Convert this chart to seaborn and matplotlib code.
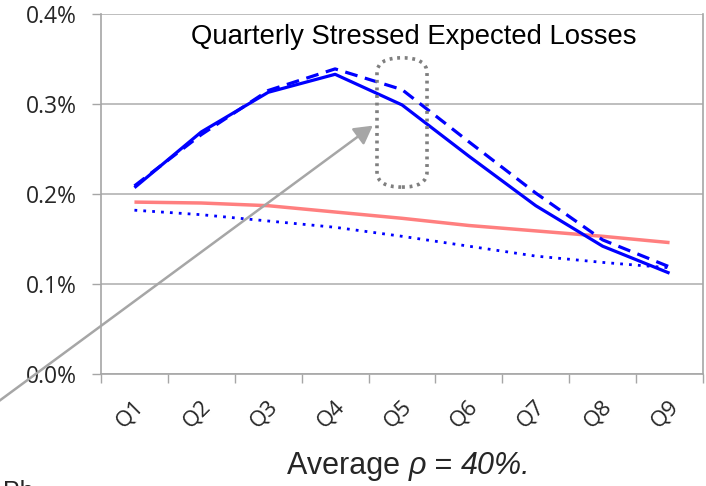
import numpy as np
import pandas as pd
import seaborn as sns
import matplotlib.pyplot as plt
import matplotlib.transforms as mtransforms
from matplotlib.patches import FancyBboxPatch, FancyArrowPatch

# Quarter categories along the horizon
quarters = ["Q1", "Q2", "Q3", "Q4", "Q5", "Q6", "Q7", "Q8", "Q9"]

# Quarterly stressed expected losses, in percent
el_solid = [0.207, 0.269, 0.313, 0.333, 0.299, 0.242, 0.187, 0.142, 0.112]
el_dashed = [0.209, 0.266, 0.315, 0.339, 0.316, 0.258, 0.201, 0.149, 0.119]
el_red = [0.191, 0.190, 0.187, 0.180, 0.173, 0.165, 0.159, 0.153, 0.146]
el_dotted = [0.182, 0.177, 0.170, 0.163, 0.153, 0.142, 0.131, 0.124, 0.118]

y_ticks = [0.0, 0.1, 0.2, 0.3, 0.4]
y_tick_labels = ["0.0%", "0.1%", "0.2%", "0.3%", "0.4%"]

series = {
    "solid": el_solid,
    "dashed": el_dashed,
    "red": el_red,
    "dotted": el_dotted,
}
df = pd.DataFrame(
    [
        {"series": name, "pos": i, "quarter": q, "loss": v}
        for name, vals in series.items()
        for i, (q, v) in enumerate(zip(quarters, vals))
    ]
)

sns.set_theme(style="white")
plt.rcParams["font.family"] = ["Liberation Sans", "DejaVu Sans"]

fig = plt.figure(figsize=(7.06, 4.86), dpi=100)
ax = fig.add_axes([101 / 706, 1 - 374 / 486, 602 / 706, 360 / 486])

styles = {
    "solid": dict(color="#0000FF", linestyle="-", linewidth=2.3),
    "dashed": dict(color="#0000FF", linestyle=(0, (4.0, 2.4)), linewidth=2.3),
    "red": dict(color="#FF7F7F", linestyle="-", linewidth=2.5),
    "dotted": dict(color="#0000FF", linestyle=(0, (1, 2.2)), linewidth=2.0),
}
for name in ["red", "dotted", "dashed", "solid"]:
    sub = df[df["series"] == name]
    sns.lineplot(data=sub, x="pos", y="loss", ax=ax, legend=False,
                 solid_capstyle="butt", dash_capstyle="butt", **styles[name])

ax.set_xlim(-0.5, len(quarters) - 0.5)
ax.set_ylim(0, 0.4)

# y axis
ax.set_yticks(y_ticks)
ax.set_yticklabels(y_tick_labels, fontsize=16.5, family=["Open Sans", "DejaVu Sans"])
ax.yaxis.grid(True, color="#b3b3b3", linewidth=1.2)
ax.tick_params(axis="y", length=6.5, width=1.0, color="#a6a6a6", pad=11, left=True)

# x axis: labels at category centres, tick marks on category boundaries
ax.set_xticks(range(len(quarters)))
ax.set_xticklabels(quarters, rotation=45, ha="right", va="center",
                   rotation_mode="anchor",
                   fontsize=16, family=["Open Sans", "DejaVu Sans"])
ax.tick_params(axis="x", which="major", length=0, pad=21)
nudge = mtransforms.ScaledTranslation(6 / 100, 0, fig.dpi_scale_trans)
for lbl in ax.get_xticklabels():
    lbl.set_transform(lbl.get_transform() + nudge)
ax.set_xticks(np.arange(-0.5, len(quarters), 1.0), minor=True)
ax.tick_params(axis="x", which="minor", length=6.5, width=1.0, color="#a6a6a6",
               bottom=True)
ax.set_xlabel("")
ax.set_ylabel("")

for side in ["left", "bottom", "right"]:
    ax.spines[side].set_visible(True)
    ax.spines[side].set_color("#a6a6a6")
    ax.spines[side].set_linewidth(1.2)
ax.spines["top"].set_visible(False)

ax.text(4.18, 0.3744, "Quarterly Stressed Expected Losses", ha="center",
        va="center", fontsize=19.8, color="black")

# dotted highlight around Q5
hl = FancyBboxPatch((4.0, 0.2245), 0.0, 0.110,
                    boxstyle="round,pad=0.374,rounding_size=0.374",
                    mutation_aspect=0.045,
                    fill=False, edgecolor="#7f7f7f", linewidth=2.6,
                    linestyle=(0, (0.8, 1.3)), zorder=5)
ax.add_patch(hl)

# gray arrow coming in from the lower left
arrow = FancyArrowPatch((-5 / 706, 1 - 404 / 486), (375 / 706, 1 - 124 / 486),
                        transform=fig.transFigure,
                        arrowstyle="-|>,head_length=0.5,head_width=0.28",
                        mutation_scale=22, color="#a6a6a6", linewidth=1.8,
                        zorder=6)
fig.patches.append(arrow)

# caption below the axis, mixing upright and italic runs on one baseline
renderer = fig.canvas.get_renderer()
caption_runs = [("Average ", "normal"), ("\u03c1", "italic"), (" = ", "normal"),
                ("40%.", "italic")]
x_px = 287.0
base_y = 1 - 474 / 486
for run, style in caption_runs:
    t = fig.text(x_px / 706, base_y, run, ha="left", va="baseline",
                 fontsize=22, fontstyle=style)
    x_px += t.get_window_extent(renderer=renderer).width

fig.text(3 / 706, -0.026, "Ph", ha="left", va="baseline", fontsize=18)

fig.savefig("out.png", dpi=100)
